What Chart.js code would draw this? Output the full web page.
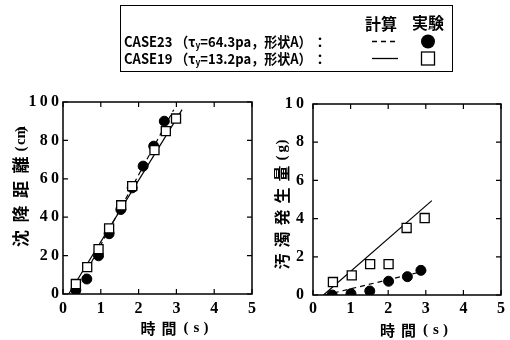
<!DOCTYPE html>
<html>
<head>
<meta charset="utf-8">
<script src="https://cdn.jsdelivr.net/npm/chart.js@4"></script>
<style>
  html, body { margin: 0; padding: 0; background: #fff; }
  body { position: relative; width: 510px; height: 340px; overflow: hidden;
         font-family: "Noto Sans CJK JP", sans-serif; color: #000; }
  canvas { position: absolute; left: 0; top: 0; }
  #legendBox { position: absolute; left: 120px; top: 5px; width: 333px; height: 67px;
               border: 1.5px solid #000; box-sizing: border-box; }
  .lt { position: absolute; font-weight: 700; white-space: nowrap; line-height: 1; }
  .row { transform: scaleX(0.93); transform-origin: 0 50%; }
  .lt sub { font-size: 9px; vertical-align: -2px; }
  #legendMarks { position: absolute; left: 0; top: 0; }
</style>
</head>
<body>
<canvas id="settle" width="510" height="340"></canvas>
<canvas id="turbid" width="510" height="340"></canvas>

<div id="legendBox"></div>
<div class="lt" style="left:365px; top:15px; font-size:16px;">計算</div>
<div class="lt" style="left:412px; top:14px; font-size:16px;">実験</div>
<div class="lt row" style="left:124px; top:34px; font-size:14px;">CASE23 （τ<sub>y</sub>=64.3pa，形状A）</div>
<div class="lt" style="left:313px; top:34px; font-size:14px;">：</div>
<div class="lt row" style="left:124px; top:51px; font-size:14px;">CASE19 （τ<sub>y</sub>=13.2pa，形状A）</div>
<div class="lt" style="left:313px; top:51px; font-size:14px;">：</div>
<svg id="legendMarks" width="510" height="80">
  <line x1="372" y1="41.5" x2="398" y2="41.5" stroke="#000" stroke-width="1.3" stroke-dasharray="5 4"/>
  <line x1="372" y1="58.5" x2="398" y2="58.5" stroke="#000" stroke-width="1.3"/>
  <circle cx="428" cy="41.5" r="7" fill="#000"/>
  <rect x="421.5" y="52" width="13" height="13" fill="#fff" stroke="#000" stroke-width="1.3"/>
</svg>

<script>
// Settling distance (cm) versus time (s)
const settleTime23 = [0.34, 0.63, 0.94, 1.22, 1.53, 1.83, 2.12, 2.40, 2.68];
const settleDist23 = [2.0, 7.8, 19.9, 31.4, 44.0, 55.3, 66.6, 77.0, 90.0];
const settleTime19 = [0.34, 0.64, 0.94, 1.22, 1.54, 1.83, 2.42, 2.72, 2.99];
const settleDist19 = [5.2, 14.0, 23.4, 34.2, 46.2, 56.2, 74.9, 84.8, 91.4];
const settleCalcTime23 = [0.30, 2.93];
const settleCalcDist23 = [0, 96];
const settleCalcTime19 = [0.15, 3.15];
const settleCalcDist19 = [0, 96];

// Turbidity generated (g) versus time (s)
const turbTime23 = [0.51, 1.01, 1.51, 2.01, 2.51, 2.87];
const turbMass23 = [0.0, 0.07, 0.21, 0.72, 0.96, 1.29];
const turbTime19 = [0.53, 1.03, 1.52, 2.01, 2.49, 2.97];
const turbMass19 = [0.68, 1.03, 1.62, 1.62, 3.51, 4.03];
const turbCalcTime23 = [0.32, 3.08];
const turbCalcMass23 = [0, 1.31];
const turbCalcTime19 = [0.28, 3.16];
const turbCalcMass19 = [0, 4.94];

const timeTicks = [0, 1, 2, 3, 4, 5];
const settleTicks = [0, 20, 40, 60, 80, 100];
const turbTicks = [0, 2, 4, 6, 8, 10];

const pts = (xs, ys) => xs.map((x, i) => ({ x: x, y: ys[i] }));
const tickFont = { family: '"Liberation Serif", serif', weight: 'bold', size: 16 };
const spaced = v => String(v).split('').join('\u2009');

// Closed frame with inward tick marks on all four sides
const framePlugin = {
  id: 'frame',
  afterDatasetsDraw(chart) {
    const { ctx, chartArea: a, scales } = chart;
    ctx.save();
    ctx.strokeStyle = '#000';
    ctx.lineWidth = 1.5;
    ctx.strokeRect(a.left, a.top, a.right - a.left, a.bottom - a.top);
    ctx.lineWidth = 1.2;
    const len = 5;
    ctx.beginPath();
    scales.x.ticks.forEach(t => {
      const px = scales.x.getPixelForValue(t.value);
      ctx.moveTo(px, a.bottom); ctx.lineTo(px, a.bottom - len);
      ctx.moveTo(px, a.top); ctx.lineTo(px, a.top + len);
    });
    scales.y.ticks.forEach(t => {
      const py = scales.y.getPixelForValue(t.value);
      ctx.moveTo(a.left, py); ctx.lineTo(a.left + len, py);
      ctx.moveTo(a.right, py); ctx.lineTo(a.right - len, py);
    });
    ctx.stroke();
    ctx.restore();
  }
};

// Axis titles: each segment places its characters at a fixed pitch
function drawSegments(ctx, segs, cx, cy, rotate) {
  ctx.save();
  ctx.translate(cx, cy);
  if (rotate) ctx.rotate(-Math.PI / 2);
  ctx.fillStyle = '#000';
  ctx.textBaseline = 'middle';
  ctx.textAlign = 'left';
  const widths = segs.map(s => {
    ctx.font = s.font;
    const chars = Array.from(s.text);
    return (chars.length - 1) * s.pitch + ctx.measureText(chars[chars.length - 1]).width;
  });
  const total = widths.reduce((acc, w, i) => acc + w + (i < segs.length - 1 ? segs[i].gap : 0), 0);
  let x = -total / 2;
  segs.forEach((s, i) => {
    ctx.font = s.font;
    Array.from(s.text).forEach((ch, k) => ctx.fillText(ch, x + k * s.pitch, 0));
    x += widths[i] + (s.gap || 0);
  });
  ctx.restore();
}

const jpFont = sz => `bold ${sz}px "Noto Sans CJK JP", sans-serif`;
const latFont = sz => `bold ${sz}px "Liberation Serif", serif`;

function titlePlugin(yTitle, xTitle) {
  return {
    id: 'axisTitles',
    afterDraw(chart) {
      const { ctx, chartArea: a } = chart;
      const cxp = (a.left + a.right) / 2, cyp = (a.top + a.bottom) / 2;
      drawSegments(ctx, yTitle.segs, a.left + yTitle.dx, cyp + yTitle.dy, true);
      drawSegments(ctx, xTitle.segs, cxp + xTitle.dx, a.bottom + xTitle.dy, false);
    }
  };
}

function makeChart(id, cfg) {
  return new Chart(document.getElementById(id), {
    type: 'scatter',
    data: {
      datasets: [
        { data: cfg.sq, pointStyle: 'rect', pointRadius: 6.4, backgroundColor: '#fff',
          borderColor: '#000', borderWidth: 1.3, order: 0 },
        { data: cfg.ci, pointStyle: 'circle', pointRadius: 5, backgroundColor: '#000',
          borderColor: '#000', borderWidth: 1, order: 1 },
        { data: cfg.solid, showLine: true, pointRadius: 0, borderColor: '#000',
          borderWidth: 1.2, order: 2 },
        { data: cfg.dash, showLine: true, pointRadius: 0, borderColor: '#000',
          borderWidth: 1.2, borderDash: [5, 4], order: 3 }
      ]
    },
    options: {
      responsive: false,
      animation: false,
      events: [],
      layout: { padding: cfg.pad },
      plugins: { legend: { display: false }, tooltip: { enabled: false } },
      scales: {
        x: {
          type: 'linear', min: 0, max: 5,
          afterBuildTicks: s => { s.ticks = timeTicks.map(v => ({ value: v })); },
          afterFit: s => { s.height = cfg.xh; },
          grid: { display: false, drawTicks: false },
          border: { display: false },
          ticks: { color: '#000', font: tickFont, padding: cfg.xpad, maxRotation: 0 }
        },
        y: {
          type: 'linear', min: 0, max: cfg.ymax,
          afterBuildTicks: s => { s.ticks = cfg.yticks.map(v => ({ value: v })); },
          afterFit: s => { s.width = 63; },
          grid: { display: false, drawTicks: false },
          border: { display: false },
          ticks: { color: '#000', font: tickFont, padding: cfg.ypad, callback: spaced }
        }
      }
    },
    plugins: [framePlugin, titlePlugin(cfg.yTitle, cfg.xTitle)]
  });
}

makeChart('settle', {
  sq: pts(settleTime19, settleDist19),
  ci: pts(settleTime23, settleDist23),
  solid: pts(settleCalcTime19, settleCalcDist19),
  dash: pts(settleCalcTime23, settleCalcDist23),
  ymax: 100, yticks: settleTicks,
  pad: { left: 0, top: 102, right: 258, bottom: 0 },
  xh: 46, xpad: 5, ypad: 4,
  yTitle: { dx: -42, dy: -11, segs: [
    { text: '沈降距離', font: jpFont(17), pitch: 24.5, gap: 5 },
    { text: '(cm)', font: latFont(15), pitch: 6.5 } ] },
  xTitle: { dx: 17, dy: 34, segs: [
    { text: '時間', font: jpFont(15), pitch: 21, gap: 7 },
    { text: '(s)', font: latFont(15), pitch: 10 } ] }
});

makeChart('turbid', {
  sq: pts(turbTime19, turbMass19),
  ci: pts(turbTime23, turbMass23),
  solid: pts(turbCalcTime19, turbCalcMass19),
  dash: pts(turbCalcTime23, turbCalcMass23),
  ymax: 10, yticks: turbTicks,
  pad: { left: 250, top: 104, right: 9, bottom: 0 },
  xh: 45, xpad: 4, ypad: 9,
  yTitle: { dx: -31, dy: 5, segs: [
    { text: '汚濁発生量', font: jpFont(16), pitch: 22, gap: 5 },
    { text: '(g)', font: latFont(15), pitch: 8 } ] },
  xTitle: { dx: 7, dy: 35, segs: [
    { text: '時間', font: jpFont(15), pitch: 21, gap: 7 },
    { text: '(s)', font: latFont(15), pitch: 10 } ] }
});
</script>
</body>
</html>
